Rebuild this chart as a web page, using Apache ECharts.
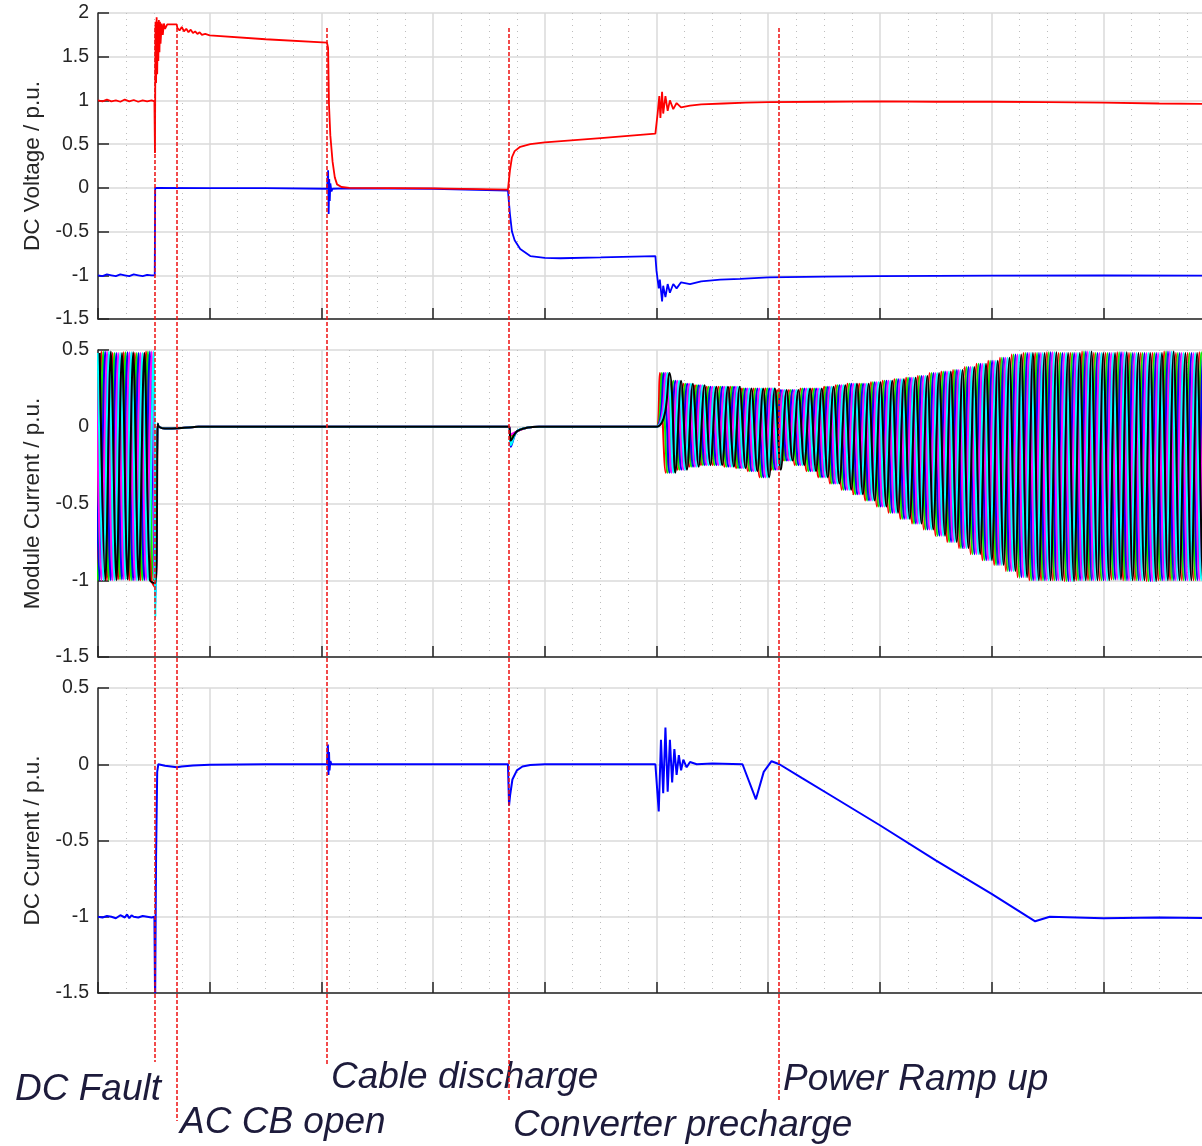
<!DOCTYPE html>
<html style="height: 100%">
<head>
    <meta charset="utf-8">
</head>
<body style="height: 100%; margin: 0; background: #fff">
<div id="container" style="width: 1202px; height: 1146px"></div>
<script type="text/javascript" src="https://cdn.jsdelivr.net/npm/echarts@6/dist/echarts.min.js"></script>
<script type="text/javascript">
// ---- DC voltage, positive pole (red) : [t, p.u.]
var dcVoltPos = [
    [0, 1.0], [0.04, 0.99], [0.08, 1.01], [0.12, 0.99], [0.16, 1.0], [0.2, 0.985], [0.24, 1.01], [0.28, 0.99],
    [0.32, 1.005], [0.36, 0.985], [0.4, 1.0], [0.44, 0.99], [0.48, 1.0], [0.505, 0.99],
    [0.51, 0.4], [0.515, 1.9], [0.52, 1.2], [0.525, 1.95], [0.53, 1.3], [0.535, 1.9], [0.54, 1.45], [0.545, 1.92],
    [0.55, 1.55], [0.555, 1.9], [0.56, 1.65], [0.57, 1.88], [0.58, 1.75], [0.59, 1.88], [0.6, 1.82], [0.62, 1.87],
    [0.65, 1.87], [0.705, 1.87],
    [0.71, 1.83], [0.73, 1.8], [0.75, 1.84], [0.77, 1.79], [0.79, 1.82], [0.81, 1.78], [0.83, 1.81], [0.85, 1.77],
    [0.87, 1.79], [0.89, 1.76], [0.91, 1.78], [0.93, 1.75], [0.96, 1.76], [1.0, 1.745], [1.5, 1.70], [2.05, 1.66],
    [2.06, 1.6], [2.068, 0.95], [2.08, 0.6], [2.1, 0.3], [2.12, 0.12], [2.14, 0.04], [2.18, 0.01], [2.25, 0.0],
    [3.0, -0.005], [3.67, -0.02],
    [3.688, 0.2], [3.706, 0.35], [3.73, 0.42], [3.78, 0.47], [3.87, 0.5], [4.0, 0.52], [4.5, 0.57], [4.99, 0.62],
    [5.0, 0.62], [5.01, 0.85], [5.025, 1.05], [5.035, 0.8], [5.05, 1.1], [5.06, 0.85], [5.08, 1.05], [5.1, 0.88],
    [5.12, 1.0], [5.15, 0.9], [5.18, 0.97], [5.22, 0.92], [5.3, 0.94], [5.4, 0.955], [5.6, 0.965], [5.8, 0.975],
    [6.0, 0.98], [6.5, 0.985], [7.0, 0.99], [7.5, 0.985], [8.0, 0.985], [8.5, 0.98], [9.0, 0.975], [9.5, 0.965], [10, 0.96]
];
// ---- DC voltage, negative pole (blue)
var dcVoltNeg = [
    [0, -1.0], [0.04, -1.01], [0.08, -0.99], [0.12, -1.0], [0.16, -1.01], [0.2, -0.99], [0.24, -1.0], [0.28, -1.01],
    [0.32, -0.99], [0.36, -1.0], [0.4, -1.01], [0.44, -0.995], [0.48, -1.0], [0.508, -1.0],
    [0.512, 0.0], [1.0, -0.002], [1.5, -0.004], [2.05, -0.01], [2.06, 0.2], [2.065, -0.3], [2.07, 0.1], [2.075, -0.15],
    [2.08, 0.05], [2.09, -0.04], [2.1, -0.01], [2.2, -0.005], [3.0, -0.01], [3.67, -0.03],
    [3.688, -0.3], [3.706, -0.5], [3.73, -0.6], [3.78, -0.7], [3.87, -0.78], [4.0, -0.8], [4.14, -0.805], [4.5, -0.795], [4.99, -0.78],
    [5.0, -0.95], [5.02, -1.15], [5.03, -1.05], [5.05, -1.3], [5.06, -1.12], [5.08, -1.25], [5.1, -1.1], [5.12, -1.2],
    [5.15, -1.1], [5.18, -1.15], [5.22, -1.08], [5.3, -1.1], [5.4, -1.07], [5.57, -1.05], [5.75, -1.04], [6.0, -1.025],
    [6.5, -1.015], [7.0, -1.01], [8.0, -1.005], [9.0, -1.0], [10, -1.005]
];
// ---- DC current (blue)
var dcCurrent = [
    [0, -1.0], [0.04, -1.005], [0.08, -0.995], [0.12, -1.0], [0.16, -1.01], [0.2, -0.99], [0.24, -1.005], [0.26, -0.985],
    [0.28, -1.01], [0.3, -0.99], [0.32, -1.0], [0.36, -1.005], [0.4, -0.995], [0.44, -1.0], [0.48, -1.005], [0.505, -1.0],
    [0.51, -1.45], [0.512, -1.5], [0.52, -0.6], [0.53, -0.05], [0.54, 0.0], [0.6, -0.01], [0.707, -0.02], [0.75, -0.015],
    [0.85, -0.008], [1.0, -0.003], [1.5, 0.0], [2.05, 0.0], [2.058, 0.13], [2.063, -0.07], [2.068, 0.08], [2.073, -0.04],
    [2.08, 0.02], [2.09, 0.0], [3.67, 0.0],
    [3.68, -0.27], [3.69, -0.2], [3.71, -0.1], [3.75, -0.04], [3.8, -0.015], [3.87, -0.005], [4.0, 0.0], [4.99, 0.0],
    [5.02, -0.31], [5.04, 0.16], [5.06, -0.19], [5.08, 0.24], [5.1, -0.18], [5.12, 0.16], [5.14, -0.12], [5.16, 0.1],
    [5.18, -0.07], [5.2, 0.06], [5.22, -0.04], [5.24, 0.03], [5.27, -0.02], [5.3, 0.015], [5.36, 0.0], [5.5, 0.005], [5.77, 0.0],
    [5.89, -0.23], [5.96, -0.05], [6.03, 0.02], [6.1, 0.0], [6.3, -0.09], [6.55, -0.2], [7.0, -0.4], [7.5, -0.63],
    [8.0, -0.85], [8.39, -1.03], [8.52, -1.0], [9.0, -1.01], [9.5, -1.005], [10, -1.01]
];

// ---- module currents: peaks / troughs of each cycle (first trace)
var modPeakT = [-0.07, 0.03, 0.13, 0.23, 0.33, 0.43,
    5.03, 5.135, 5.24, 5.345, 5.45, 5.555, 5.66, 5.765, 5.87, 5.975, 6.08, 6.185, 6.29, 6.395, 6.5, 6.605,
    6.71, 6.815, 6.92, 7.025, 7.13, 7.235, 7.34, 7.445, 7.55, 7.655, 7.76, 7.865, 7.97, 8.075, 8.18, 8.285,
    8.39, 8.495, 8.6, 8.705, 8.81, 8.915, 9.02, 9.125, 9.23, 9.335, 9.44, 9.545, 9.65, 9.755, 9.86, 9.965];
var modPeakV = [0.48, 0.49, 0.48, 0.485, 0.48, 0.49,
    0.35, 0.30, 0.28, 0.27, 0.26, 0.26, 0.26, 0.25, 0.25, 0.25, 0.24, 0.24, 0.25, 0.25, 0.26, 0.27,
    0.28, 0.28, 0.29, 0.30, 0.31, 0.32, 0.33, 0.35, 0.36, 0.37, 0.39, 0.41, 0.43, 0.45, 0.47, 0.48,
    0.48, 0.485, 0.48, 0.48, 0.49, 0.48, 0.48, 0.485, 0.48, 0.48, 0.48, 0.49, 0.48, 0.48, 0.485, 0.48];
var modTroughT = [-0.02, 0.08, 0.18, 0.28, 0.38, 0.48,
    5.083, 5.188, 5.293, 5.398, 5.503, 5.608, 5.713, 5.818, 5.923, 6.028, 6.133, 6.238, 6.343, 6.448, 6.553, 6.658,
    6.763, 6.868, 6.973, 7.078, 7.183, 7.288, 7.393, 7.498, 7.603, 7.708, 7.813, 7.918, 8.023, 8.128, 8.233, 8.338,
    8.443, 8.548, 8.653, 8.758, 8.863, 8.968, 9.073, 9.178, 9.283, 9.388, 9.493, 9.598, 9.703, 9.808, 9.913, 10.018];
var modTroughV = [-1.0, -1.0, -0.995, -1.0, -1.0, -1.0,
    -0.30, -0.28, -0.26, -0.25, -0.25, -0.26, -0.27, -0.29, -0.33, -0.28, -0.22, -0.25, -0.29, -0.33, -0.37, -0.41,
    -0.44, -0.48, -0.52, -0.56, -0.60, -0.63, -0.67, -0.71, -0.75, -0.79, -0.83, -0.87, -0.90, -0.94, -0.98, -1.0,
    -1.0, -1.0, -1.005, -1.0, -1.0, -1.0, -0.995, -1.0, -1.0, -1.005, -1.0, -1.0, -1.0, -1.0, -1.005, -1.0];
// six module traces: colour, phase lag, fault spike, precharge dip
var modColors = ['#ff0000', '#00ee00', '#0000ff', '#ff00ff', '#00ffff', '#000000'];
var modPhase = [0, 0.017, 0.034, 0.051, 0.068, 0.085];
var modFaultDip = [-1.05, -1.0, -1.1, -1.15, -1.24, -1.02];
var modPrechargeDip = [-0.06, -0.08, -0.13, -0.05, -0.12, -0.09];
// shared quiet section between fault and precharge
var modQuiet = [[0.535, 0.02], [0.545, 0.0], [0.6, -0.012], [0.75, -0.008], [0.9, 0.0], [3.68, 0.0]];
var modRecover = [[3.75, -0.03], [3.85, -0.005], [3.95, 0.0], [5.0, 0.0]];

// ---- events
var eventTimes = [0.51, 0.71, 2.05, 3.68, 6.10];
var eventNames = ['DC Fault', 'AC CB open', 'Cable discharge', 'Converter precharge', 'Power Ramp up'];

var FONT = '"Liberation Sans", Arial, Helvetica, sans-serif';
var dom = document.getElementById('container');
var myChart = echarts.init(dom);

function buildModule(c) {
    var off = modPhase[c];
    var pts = [];
    for (var k = 0; k < modPeakT.length; k++) {
        if (modPeakT[k] > 1) continue;
        if (modPeakT[k] + off < 0.51) pts.push([modPeakT[k] + off, modPeakV[k]]);
        if (modTroughT[k] + off < 0.51) pts.push([modTroughT[k] + off, modTroughV[k]]);
    }
    pts.push([0.515, modFaultDip[c]]);
    modQuiet.forEach(function (p) { pts.push(p); });
    pts.push([3.695, modPrechargeDip[c]]);
    modRecover.forEach(function (p) { pts.push(p); });
    for (var j = 0; j < modPeakT.length; j++) {
        if (modPeakT[j] < 5) continue;
        pts.push([modPeakT[j] + off, modPeakV[j]]);
        pts.push([modTroughT[j] + off, modTroughV[j]]);
    }
    return pts;
}

// plot area runs past the right edge of the page (x = 10 sits off-canvas)
var grids = [
    {left: 98, width: 1117, top: 13, height: 306, outerBoundsMode: 'none'},
    {left: 98, width: 1117, top: 350, height: 307, outerBoundsMode: 'none'},
    {left: 98, width: 1117, top: 688, height: 305, outerBoundsMode: 'none'}
];
var yMins = [-1.5, -1.5, -1.5];
var yMaxs = [2, 0.5, 0.5];
var yNames = ['DC Voltage / p.u.', 'Module Current / p.u.', 'DC Current / p.u.'];

var xAxes = [], yAxes = [];
for (var i = 0; i < 3; i++) {
    xAxes.push({
        type: 'value', gridIndex: i, min: 0, max: 10, interval: 1,
        axisLine: {show: true, onZero: false, lineStyle: {color: '#262626', width: 1.5}},
        axisTick: {show: true, inside: true, length: 11, lineStyle: {color: '#262626', width: 1.5}},
        axisLabel: {show: false},
        splitLine: {show: true, lineStyle: {color: '#dadada', width: 1.5}},
        minorTick: {show: false, splitNumber: 4},
        minorSplitLine: {show: true, lineStyle: {color: '#bdbdbd', width: 1, type: [1, 5]}}
    });
    yAxes.push({
        type: 'value', gridIndex: i, min: yMins[i], max: yMaxs[i], interval: 0.5,
        name: yNames[i], nameLocation: 'middle', nameGap: 51,
        nameTextStyle: {fontSize: 22.5, color: '#262626', fontFamily: FONT},
        axisLine: {show: true, onZero: false, lineStyle: {color: '#262626', width: 1.5}},
        axisTick: {show: true, inside: true, length: 11, lineStyle: {color: '#262626', width: 1.5}},
        axisLabel: {fontSize: 19.5, color: '#262626', margin: 9, fontFamily: FONT},
        splitLine: {show: true, lineStyle: {color: '#dadada', width: 1.5}}
    });
}

var series = [
    {type: 'line', xAxisIndex: 0, yAxisIndex: 0, data: dcVoltNeg, showSymbol: false,
        lineStyle: {color: '#0000ff', width: 1.8}},
    {type: 'line', xAxisIndex: 0, yAxisIndex: 0, data: dcVoltPos, showSymbol: false,
        lineStyle: {color: '#ff0000', width: 1.8}}
];
for (var c = 0; c < modColors.length; c++) {
    series.push({type: 'line', xAxisIndex: 1, yAxisIndex: 1, data: buildModule(c), showSymbol: false,
        smooth: 0.35, lineStyle: {color: modColors[c], width: 2}});
}
series.push({type: 'line', xAxisIndex: 2, yAxisIndex: 2, data: dcCurrent, showSymbol: false,
    lineStyle: {color: '#0000ff', width: 2}});

option = {
    animation: false,
    backgroundColor: '#ffffff',
    grid: grids,
    xAxis: xAxes,
    yAxis: yAxes,
    series: series
};
myChart.setOption(option);

// event markers: dashed red lines and italic captions below the plots
var lineBottoms = [1062, 1121, 1064, 1100, 1100];
var labelDx = [-140, 3, 4, 4, 4];
var labelY = [1090, 1123, 1078, 1126, 1080];
var graphics = [];
eventTimes.forEach(function (t, k) {
    var px = Math.round(myChart.convertToPixel({xAxisIndex: 0}, t));
    graphics.push({
        type: 'line', silent: true, z: 100,
        shape: {x1: px, y1: 28, x2: px, y2: lineBottoms[k]},
        style: {stroke: '#ee1111', lineWidth: 1.5, lineDash: [4, 2]}
    });
    graphics.push({
        type: 'text', silent: true, z: 100,
        style: {
            text: eventNames[k], x: px + labelDx[k], y: labelY[k],
            fontSize: 37, fontStyle: 'italic', fontFamily: FONT,
            fill: '#1d1b3b', verticalAlign: 'middle', align: 'left'
        }
    });
});
myChart.setOption({graphic: graphics});
</script>
</body>
</html>
